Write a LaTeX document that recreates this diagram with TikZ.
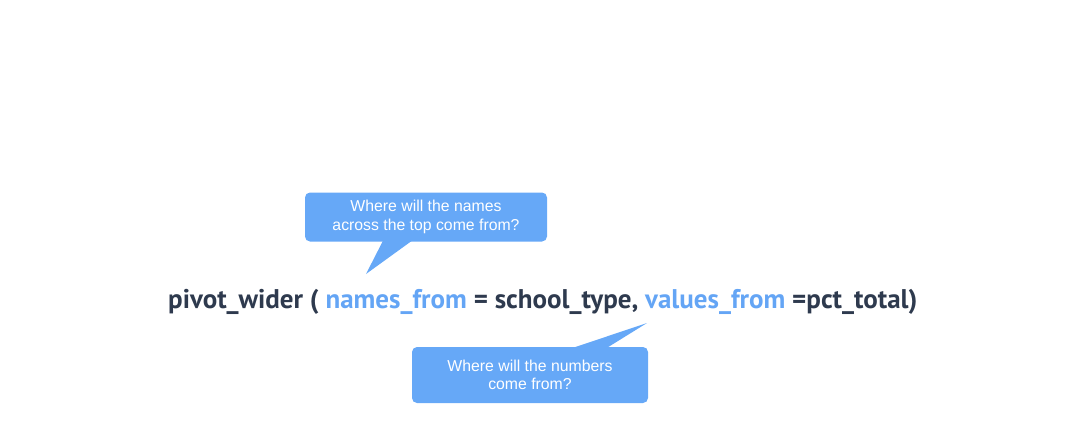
\documentclass[tikz,border=0pt]{standalone}
\usepackage{fontspec}
\setmainfont{Liberation Sans}
\newfontfamily\codefont{PT Sans}
\usepackage{tikz}
\usetikzlibrary{positioning}

\definecolor{bubbleblue}{HTML}{66A8F7}
\definecolor{argblue}{HTML}{64A5F5}
\definecolor{codedark}{HTML}{2E3A4E}

\begin{document}
\begin{tikzpicture}[x=1pt, y=-1pt,
    callout/.style={fill=bubbleblue, rounded corners=5pt, text=white, align=center,
        font=\fontsize{15.8}{18.5}\selectfont, inner sep=0pt},
    code/.style={text=codedark, font=\codefont\bfseries\fontsize{27}{32}\selectfont, inner sep=0pt}]
        \useasboundingbox (0,0) rectangle (1076,440);
        \node [code, anchor=base west] (call) at (168,308)
            {pivot\_wider ( \textcolor{argblue}{names\_from} = school\_type, \textcolor{argblue}{values\_from} =pct\_total)};
        \node [callout, minimum width=242, minimum height=49] (q1) at (426,217)
            {Where will the names\\across the top come from?};
        \node [callout, minimum width=236, minimum height=56] (q2) at (530,375)
            {Where will the numbers\\come from?};
        \coordinate (tip1) at (366,274);
        \coordinate (tip2) at (647,323);
        \fill [bubbleblue] ([xshift=-43, yshift=1]q1.south) -- (tip1) -- ([xshift=-14, yshift=1]q1.south) -- cycle;
        \fill [bubbleblue] ([xshift=43, yshift=-1]q2.north) -- (tip2) -- ([xshift=77, yshift=-1]q2.north) -- cycle;
    \end{tikzpicture}
\end{document}
